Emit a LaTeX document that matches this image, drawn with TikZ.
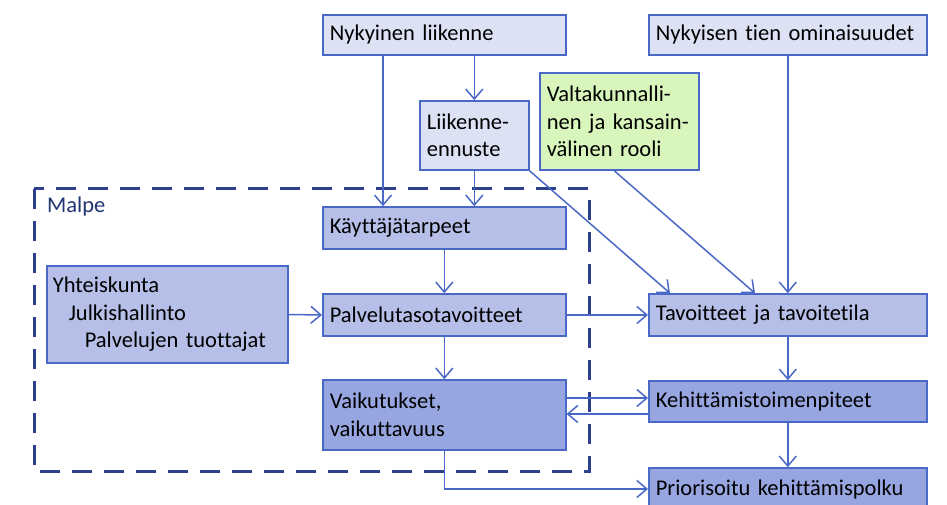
\documentclass[tikz,border=0pt]{standalone}
\usepackage{fontspec}
\setmainfont{Carlito}[Ligatures=NoCommon]
\usetikzlibrary{arrows.meta,calc}
\definecolor{boxline}{HTML}{4A68C6}
\definecolor{lightfill}{HTML}{DCE1F4}
\definecolor{midfill}{HTML}{B5BFE8}
\definecolor{darkfill}{HTML}{97A6E0}
\definecolor{greenfill}{HTML}{D8F5BC}
\definecolor{frameline}{HTML}{2E3F8C}
\definecolor{malpetext}{HTML}{1F3573}
\begin{document}
\begin{tikzpicture}[x=1pt,y=-1pt,
  box/.style={draw=boxline,line width=1.6pt,shape=rectangle,anchor=west,
    inner xsep=7pt,inner ysep=0pt,align=left,
    font=\fontsize{22.5}{27.5}\selectfont},
  light/.style={box,fill=lightfill},
  mid/.style={box,fill=midfill},
  dark/.style={box,fill=darkfill},
  green/.style={box,fill=greenfill},
  conn/.style={draw=boxline,line width=1.5pt,-{Straight Barb[length=10pt,width=17pt,line width=1.5pt]}}]
  \useasboundingbox (0,0) rectangle (947,505);
  \clip (0,0) rectangle (947,505);
  \draw[frameline,line width=3pt,dash pattern=on 20pt off 12pt] (34,189) rectangle (589,471);
  \node[anchor=west,text=malpetext,font=\fontsize{22.5}{27}\selectfont,inner sep=0pt] (malpe) at (47,207) {Malpe};
  \node[light,text width=229pt,minimum height=40pt] (nyk) at (322,35) {Nykyinen liikenne};
  \node[light,text width=95pt,minimum height=69pt] (enn) at (419,135.5) {Liikenne-\\ennuste};
  \node[green,text width=145pt,minimum height=97pt] (val) at (539,121.5) {Valtakunnalli-\\nen ja kansain-\\välinen rooli};
  \node[light,text width=264pt,minimum height=40pt] (tie) at (648,35) {Nykyisen tien ominaisuudet};
  \node[mid,text width=229pt,minimum height=42pt] (kay) at (322,228) {Käyttäjätarpeet};
  \node[mid,text width=229pt,minimum height=97pt,inner xsep=6pt] (yht) at (46,314.5) {Yhteiskunta\\\hspace*{16pt}Julkishallinto\\\hspace*{32pt}Palvelujen tuottajat};
  \node[mid,text width=229pt,minimum height=42pt] (pal) at (322,315) {Palvelutasotavoitteet};
  \node[dark,text width=229pt,minimum height=70pt] (vai) at (322,415) {Vaikutukset,\\vaikuttavuus};
  \node[mid,text width=264pt,minimum height=42pt] (tav) at (648,315) {Tavoitteet ja tavoitetila};
  \node[dark,text width=264pt,minimum height=41pt] (keh) at (648,401.5) {Kehittämistoimenpiteet};
  \node[dark,text width=264pt,minimum height=42pt] (pri) at (648,489) {Priorisoitu kehittämispolku};
  \draw[conn] ([xshift=61pt]nyk.south west) -- ([xshift=61pt]kay.north west);
  \draw[conn] (nyk.south -| enn.north) -- (enn.north);
  \draw[conn] (enn.south) -- (kay.north -| enn.south);
  \draw[conn] (enn.south east) -- ([xshift=22pt]tav.north west);
  \draw[conn] ([xshift=-5pt]val.south) -- ([xshift=107pt]tav.north west);
  \draw[conn] (tie.south) -- (tav.north);
  \draw[conn] (kay.south) -- (pal.north);
  \draw[conn] (yht.east) -- (pal.west);
  \draw[conn] (pal.east) -- (tav.west);
  \draw[conn] (pal.south) -- (vai.north);
  \draw[conn] (tav.south) -- (keh.north);
  \draw[conn] ([yshift=3.5pt]keh.west -| vai.east) -- ([yshift=3.5pt]keh.west);
  \draw[conn] ([yshift=-12.5pt]keh.west) -- ([yshift=-12.5pt]keh.west -| vai.east);
  \draw[conn] (keh.south) -- (pri.north);
  \draw[conn] (vai.south) |- (pri.west);
\end{tikzpicture}
\end{document}
